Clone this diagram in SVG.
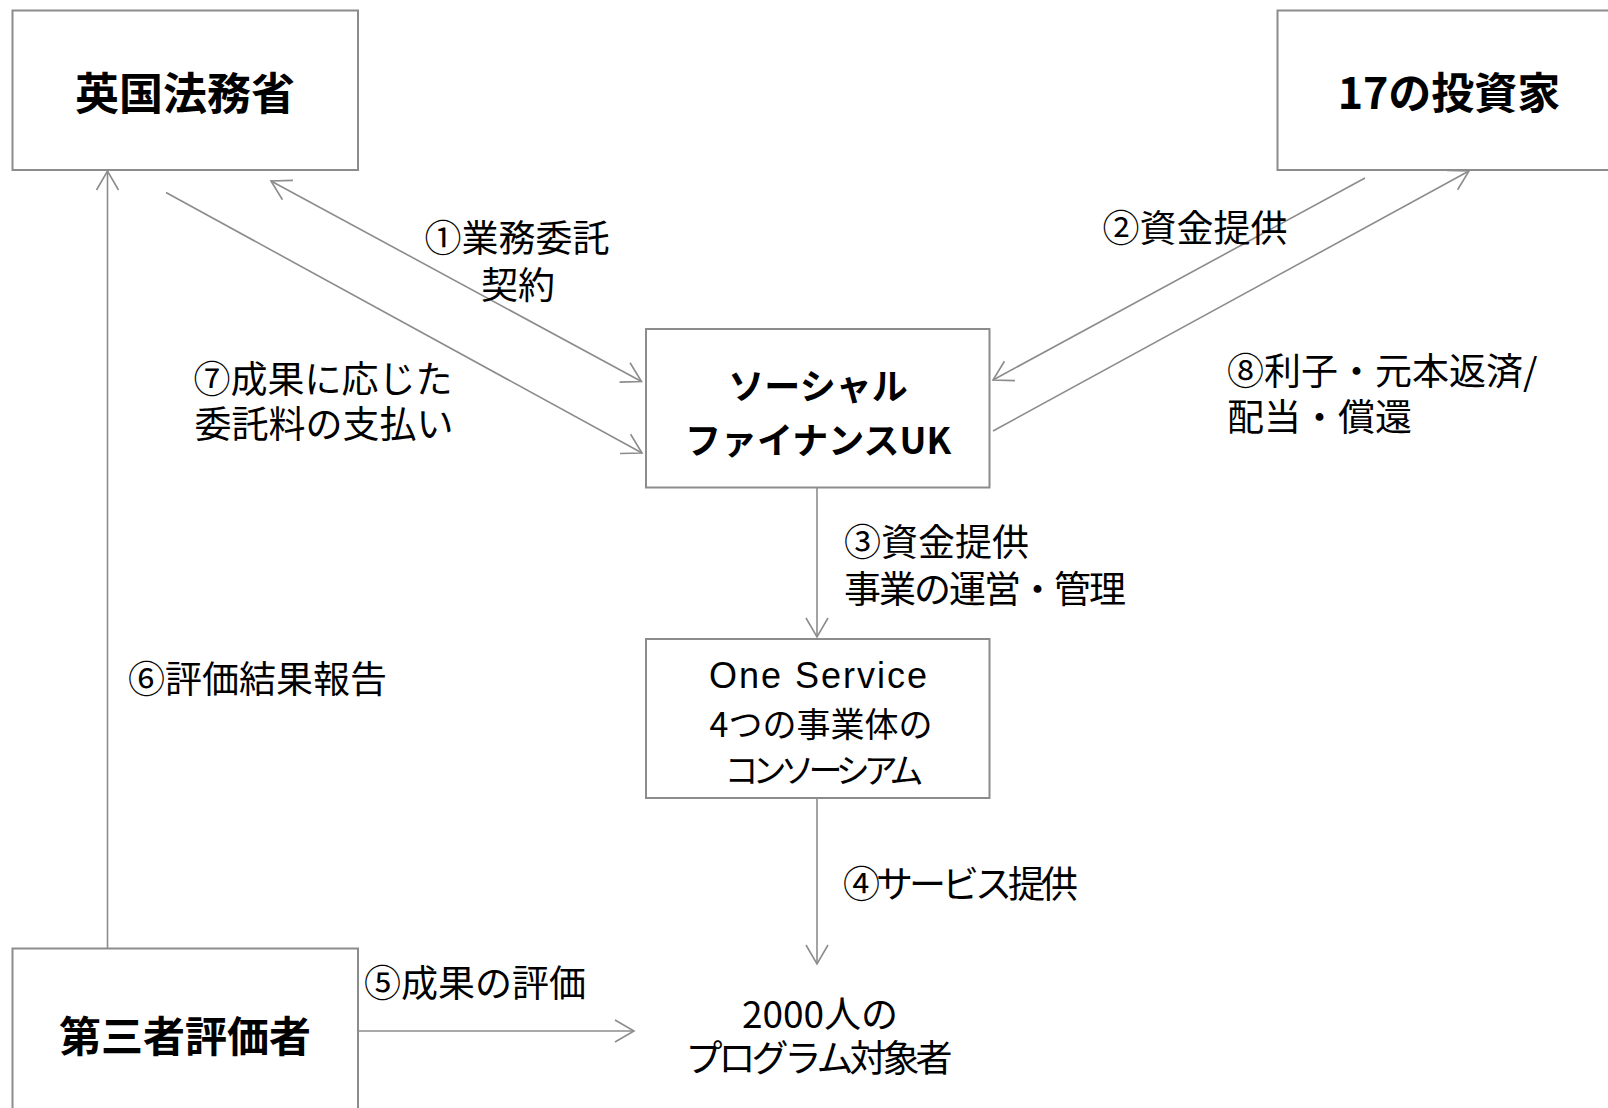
<svg xmlns="http://www.w3.org/2000/svg" width="1608" height="1108" viewBox="0 0 1608 1108">
<style>
.box{fill:#ffffff;stroke:#8c8c8c;stroke-width:2}
.ln{fill:none;stroke:#8c8c8c;stroke-width:1.6}
.t{font-family:"Noto Sans CJK JP","Noto Sans",sans-serif;fill:#000000;dominant-baseline:central}
.b{font-weight:bold}
.lab{font-size:37px}
.mid{text-anchor:middle}
</style>
<defs>
<marker id="ah" viewBox="-21 -12 23 24" markerWidth="23" markerHeight="24" refX="0" refY="0" markerUnits="userSpaceOnUse" orient="auto-start-reverse" overflow="visible">
<path d="M-19,-11 L0,0 L-19,11" fill="none" stroke="#8c8c8c" stroke-width="1.6"/>
</marker>
</defs>
<rect width="1608" height="1108" fill="#ffffff"/>
<g id="connectors">
<line class="ln" x1="271" y1="181" x2="641.5" y2="381.5" marker-start="url(#ah)" marker-end="url(#ah)"/>
<line class="ln" x1="166" y1="192.5" x2="642" y2="453" marker-end="url(#ah)"/>
<line class="ln" x1="1365" y1="178" x2="993" y2="380" marker-end="url(#ah)"/>
<line class="ln" x1="993" y1="431" x2="1469" y2="171" marker-end="url(#ah)"/>
<line class="ln" x1="817" y1="488" x2="817" y2="637" marker-end="url(#ah)"/>
<line class="ln" x1="817" y1="798" x2="817" y2="964" marker-end="url(#ah)"/>
<line class="ln" x1="358" y1="1031" x2="634" y2="1031" marker-end="url(#ah)"/>
<line class="ln" x1="107.5" y1="948" x2="107.5" y2="171" marker-end="url(#ah)"/>
</g>
<g id="labels">
<text class="t lab mid" x="517" y="236">①業務委託</text>
<text class="t lab mid" x="518" y="283">契約</text>
<text class="t lab mid" x="323" y="377">⑦成果に応じた</text>
<text class="t lab mid" x="324" y="422">委託料の支払い</text>
<text class="t lab mid" x="1195" y="226">②資金提供</text>
<text class="t lab" x="1227" y="369">⑧利子・元本返済/</text>
<text class="t lab" x="1227" y="415">配当・償還</text>
<text class="t lab" x="844" y="540">③資金提供</text>
<text class="t lab" x="844" y="587" letter-spacing="-2">事業の運営・管理</text>
<text class="t lab" x="128" y="677">⑥評価結果報告</text>
<text class="t lab" x="843" y="882" letter-spacing="-4">④サービス提供</text>
<text class="t lab" x="364" y="981">⑤成果の評価</text>
</g>
<g id="moj">
<rect class="box" x="12.5" y="10.5" width="345.5" height="159.5"/>
<text class="t b mid" x="185" y="91" font-size="44">英国法務省</text>
</g>
<g id="investors">
<rect class="box" x="1277.5" y="10.5" width="345" height="159.5"/>
<text class="t b mid" x="1449" y="90" font-size="43">17の投資家</text>
</g>
<g id="sfuk">
<rect class="box" x="646" y="329" width="343.5" height="158.5"/>
<text class="t b mid" x="818" y="384" font-size="36">ソーシャル</text>
<text class="t b mid" x="818" y="438" font-size="36">ファイナンスUK</text>
</g>
<g id="oneservice">
<rect class="box" x="646" y="639" width="343.5" height="159"/>
<text x="819" y="688" font-family="'Liberation Sans',Arial,sans-serif" font-size="36" letter-spacing="2" text-anchor="middle" fill="#000000">One Service</text>
<text class="t mid" x="821" y="722" font-size="34">4つの事業体の</text>
<text class="t mid" x="821" y="768" font-size="34" letter-spacing="-6">コンソーシアム</text>
</g>
<g id="participants">
<text class="t lab mid" x="820" y="1012">2000人の</text>
<text class="t lab mid" x="817" y="1056" letter-spacing="-4">プログラム対象者</text>
</g>
<g id="evaluator">
<rect class="box" x="12.5" y="948.5" width="345.5" height="170"/>
<text class="t b mid" x="185" y="1033" font-size="42">第三者評価者</text>
</g>
</svg>
